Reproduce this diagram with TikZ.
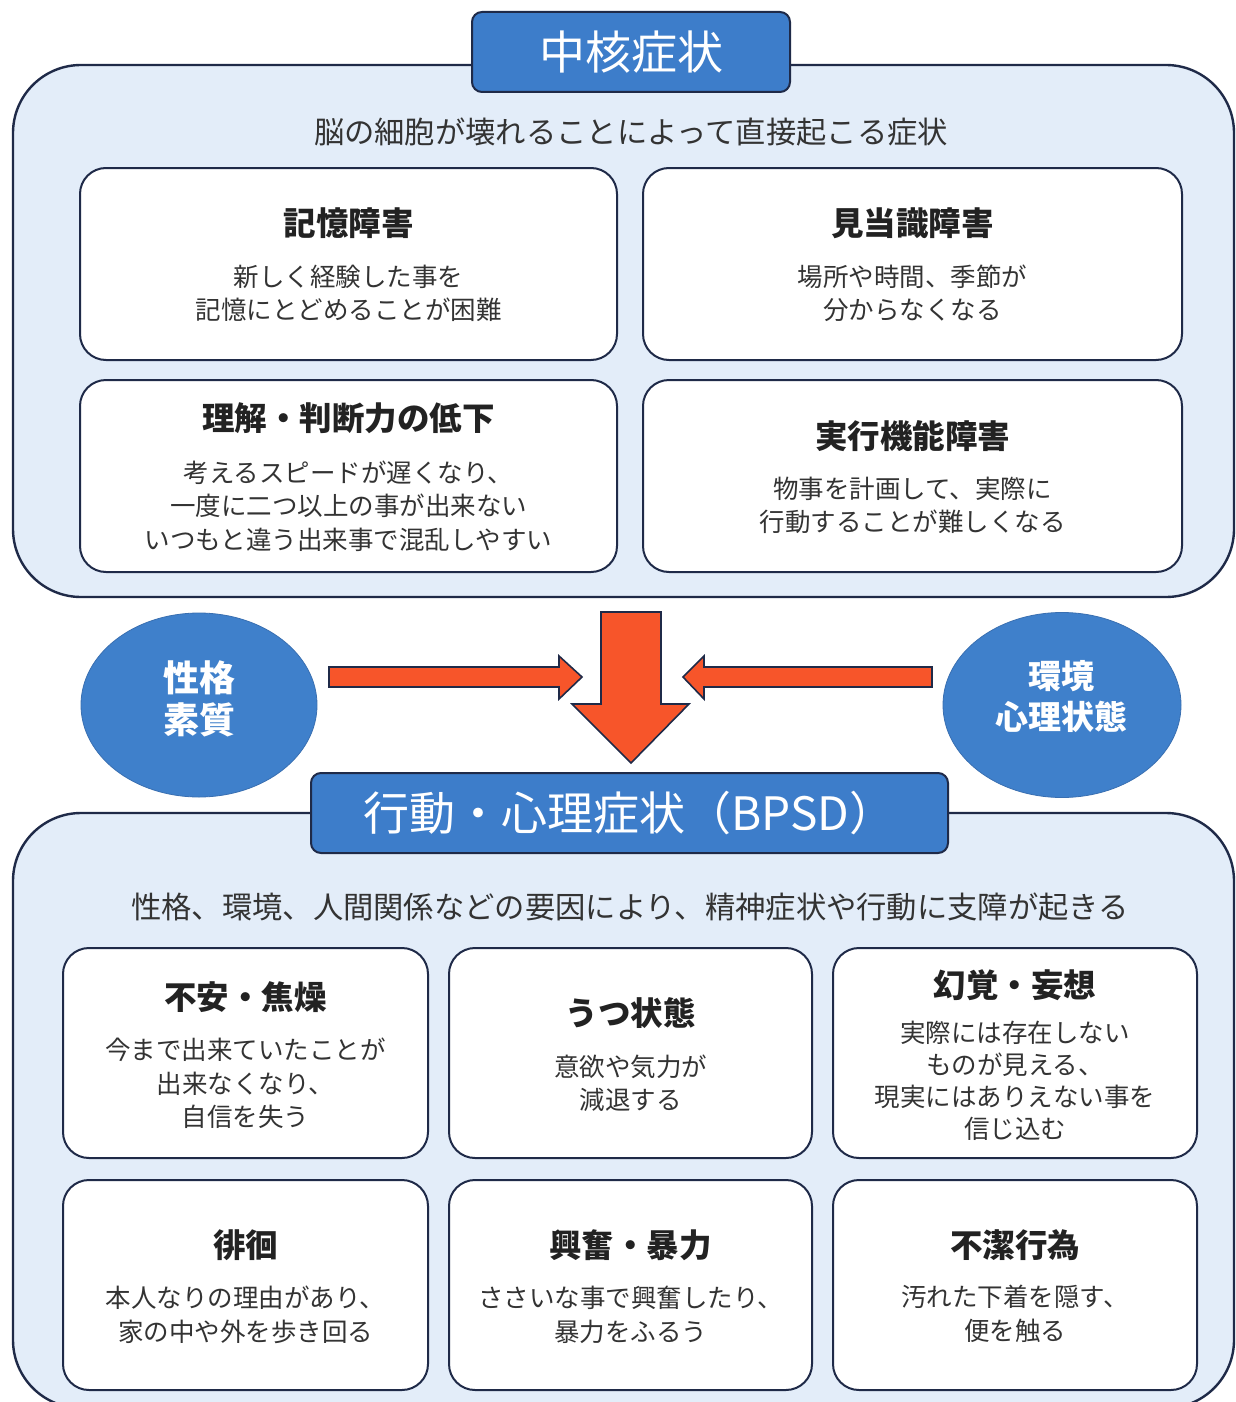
\documentclass[tikz,border=0pt]{standalone}
\usepackage{fontspec}
\setmainfont{Noto Sans CJK JP}
\usetikzlibrary{shapes.geometric}
\definecolor{navy}{HTML}{1F2A48}
\definecolor{contfill}{HTML}{E3EDF9}
\definecolor{hdrblue}{HTML}{3D7DCA}
\definecolor{circblue}{HTML}{3F80CB}
\definecolor{arrred}{HTML}{F7552A}
\definecolor{txt}{HTML}{333333}
\definecolor{ttl}{HTML}{222222}
\newcommand{\fs}[2]{\fontsize{#1}{#2}\selectfont}
\tikzset{
  cont/.style={draw=navy, line width=2.4pt, fill=contfill, rounded corners=68pt},
  hdr/.style={draw=navy, line width=2pt, fill=hdrblue, rounded corners=10pt, text=white, inner sep=0pt, font=\fs{46}{50}},
  ibox/.style={draw=navy, line width=2pt, fill=white, rounded corners=26pt, inner sep=0pt},
  ttlt/.style={text=ttl, inner sep=0pt, font=\fs{32.5}{36}\bfseries},
  bodyt/.style={text=txt, inner sep=0pt, align=center, font=\fs{25.5}{33.5}},
  subt/.style={text=txt, inner sep=0pt, font=\fs{30.3}{34}},
  circ/.style={ellipse, fill=circblue, draw=circblue!80!navy, line width=0.8pt, inner sep=0pt},
  circt/.style={text=white, align=center, inner sep=0pt},
  blockarr/.style={fill=arrred, draw=navy, line width=1.6pt, line join=miter},
}
\begin{document}
\begin{tikzpicture}[x=1pt, y=-1pt]
\useasboundingbox (0,0) rectangle (1236,1402);
\fill[white] (0,0) rectangle (1236,1402);

% containers
\draw[cont] (13,65) rectangle (1234,597);
\draw[cont] (13,813) rectangle (1234,1408);

% headers
\node[hdr, minimum width=318pt, minimum height=80pt] (h1) at (631,52) {中核症状};
\node[hdr, minimum width=637pt, minimum height=80pt] (h2) at (629.5,813) {行動・心理症状（BPSD）};

% subtitles
\node[subt] (s1) at (631,132) {脳の細胞が壊れることによって直接起こる症状};
\node[subt] (s2) at (630,907) {性格、環境、人間関係などの要因により、精神症状や行動に支障が起きる};

% top boxes
\node[ibox, minimum width=537pt, minimum height=192pt] (b1) at (348.5,264) {};
\node[ibox, minimum width=539pt, minimum height=192pt] (b2) at (912.5,264) {};
\node[ibox, minimum width=537pt, minimum height=192pt] (b3) at (348.5,476) {};
\node[ibox, minimum width=539pt, minimum height=192pt] (b4) at (912.5,476) {};

\node[ttlt] (t1) at (348.5,223) {記憶障害};
\node[bodyt] (d1) at (348.5,293.5) {新しく経験した事を\\記憶にとどめることが困難};
\node[ttlt] (t2) at (912.5,223) {見当識障害};
\node[bodyt] (d2) at (912.5,293.5) {場所や時間、季節が\\分からなくなる};
\node[ttlt] (t3) at (348.5,418) {理解・判断力の低下};
\node[bodyt] (d3) at (348.5,506) {考えるスピードが遅くなり、\\一度に二つ以上の事が出来ない\\いつもと違う出来事で混乱しやすい};
\node[ttlt] (t4) at (912.5,436) {実行機能障害};
\node[bodyt] (d4) at (912.5,505.5) {物事を計画して、実際に\\行動することが難しくなる};

% circles
\node[circ, minimum width=236pt, minimum height=184pt] (c1) at (199,705) {};
\node[circ, minimum width=238pt, minimum height=185pt] (c2) at (1062,705) {};
\node[circt, font=\fs{36}{42}\bfseries] (ct1) at (199,699) {性格\\素質};
\node[circt, font=\fs{33}{41}\bfseries] (ct2) at (1061,697) {環境\\心理状態};

% block arrows
\coordinate (la) at (329,677);
\coordinate (ra) at (932,677);
\coordinate (da) at (631,612);
\draw[blockarr] (la) ++(0,-10) -- (559,667) -- (559,656) -- (582,677) -- (559,699) -- (559,687) -- (329,687) -- cycle;
\draw[blockarr] (ra) ++(0,-10) -- (704,667) -- (704,656) -- (683,677) -- (704,699) -- (704,687) -- (932,687) -- cycle;
\draw[blockarr] (da) ++(-30,0) -- (661,612) -- (661,704) -- (689,704) -- (631,763) -- (572,704) -- (601,704) -- cycle;

% bottom boxes
\node[ibox, minimum width=365pt, minimum height=210pt] (b5) at (245.5,1053) {};
\node[ibox, minimum width=363pt, minimum height=210pt] (b6) at (630.5,1053) {};
\node[ibox, minimum width=364pt, minimum height=210pt] (b7) at (1015,1053) {};
\node[ibox, minimum width=365pt, minimum height=210pt] (b8) at (245.5,1285) {};
\node[ibox, minimum width=363pt, minimum height=210pt] (b9) at (630.5,1285) {};
\node[ibox, minimum width=364pt, minimum height=210pt] (b10) at (1015,1285) {};

\node[ttlt] (t5) at (245.5,997) {不安・焦燥};
\node[bodyt] (d5) at (245.5,1083.5) {今まで出来ていたことが\\出来なくなり、\\自信を失う};
\node[ttlt] (t6) at (630.5,1013) {うつ状態};
\node[bodyt] (d6) at (630.5,1083) {意欲や気力が\\減退する};
\node[ttlt] (t7) at (1015,985) {幻覚・妄想};
\node[bodyt, font=\fs{25.5}{32}] (d7) at (1015,1081) {実際には存在しない\\ものが見える、\\現実にはありえない事を\\信じ込む};
\node[ttlt] (t8) at (245.5,1245) {徘徊};
\node[bodyt] (d8) at (245.5,1315) {本人なりの理由があり、\\家の中や外を歩き回る};
\node[ttlt] (t9) at (630.5,1245) {興奮・暴力};
\node[bodyt] (d9) at (630.5,1315) {ささいな事で興奮したり、\\暴力をふるう};
\node[ttlt] (t10) at (1015,1245) {不潔行為};
\node[bodyt] (d10) at (1015,1314) {汚れた下着を隠す、\\便を触る};
\end{tikzpicture}
\end{document}
